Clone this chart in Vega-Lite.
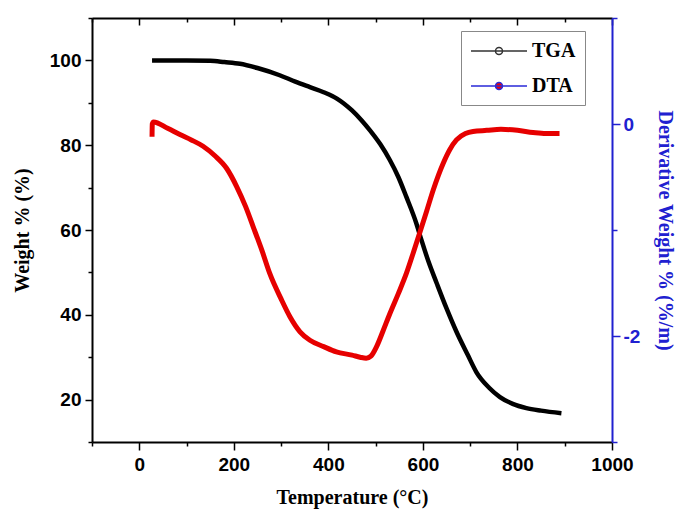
{
  "$schema": "https://vega.github.io/schema/vega-lite/v6.json",
  "width": 520,
  "height": 424,
  "autosize": "none",
  "padding": {"left": 92, "top": 18, "right": 64, "bottom": 70},
  "background": "white",
  "config": {
    "view": {"stroke": null},
    "axis": {
      "labelFont": "Liberation Sans", "labelFontWeight": "bold", "labelFontSize": 19, "labelColor": "black",
      "titleFont": "Liberation Serif", "titleFontWeight": "bold", "titleFontSize": 20, "titleColor": "black",
      "domainColor": "black", "domainWidth": 2, "tickColor": "black", "tickWidth": 1.5, "grid": false,
      "labelFlush": false, "labelOverlap": false
    }
  },
  "data": {"values": [
    {"series": "TGA", "T": 27, "v": 100},
    {"series": "TGA", "T": 60, "v": 100},
    {"series": "TGA", "T": 100, "v": 100},
    {"series": "TGA", "T": 150, "v": 99.9},
    {"series": "TGA", "T": 180, "v": 99.6},
    {"series": "TGA", "T": 213, "v": 99.2},
    {"series": "TGA", "T": 250, "v": 98.2},
    {"series": "TGA", "T": 297, "v": 96.5},
    {"series": "TGA", "T": 330, "v": 95.0},
    {"series": "TGA", "T": 361, "v": 93.7},
    {"series": "TGA", "T": 390, "v": 92.5},
    {"series": "TGA", "T": 418, "v": 91.0},
    {"series": "TGA", "T": 432, "v": 89.9},
    {"series": "TGA", "T": 450, "v": 88.2},
    {"series": "TGA", "T": 470, "v": 85.9},
    {"series": "TGA", "T": 488, "v": 83.5},
    {"series": "TGA", "T": 510, "v": 80.2},
    {"series": "TGA", "T": 530, "v": 76.5},
    {"series": "TGA", "T": 548, "v": 72.5},
    {"series": "TGA", "T": 565, "v": 67.8},
    {"series": "TGA", "T": 586, "v": 61.6},
    {"series": "TGA", "T": 597, "v": 57.6},
    {"series": "TGA", "T": 612, "v": 52.5},
    {"series": "TGA", "T": 629, "v": 47.5},
    {"series": "TGA", "T": 650, "v": 41.5},
    {"series": "TGA", "T": 671, "v": 36.0},
    {"series": "TGA", "T": 695, "v": 30.5},
    {"series": "TGA", "T": 713, "v": 26.5},
    {"series": "TGA", "T": 740, "v": 22.8},
    {"series": "TGA", "T": 763, "v": 20.6},
    {"series": "TGA", "T": 790, "v": 19.0},
    {"series": "TGA", "T": 819, "v": 18.0},
    {"series": "TGA", "T": 850, "v": 17.4},
    {"series": "TGA", "T": 893, "v": 16.8},
    {"series": "DTA", "T": 27, "v": -0.12},
    {"series": "DTA", "T": 27.5, "v": 0.0},
    {"series": "DTA", "T": 30, "v": 0.02},
    {"series": "DTA", "T": 60, "v": -0.04},
    {"series": "DTA", "T": 86, "v": -0.10},
    {"series": "DTA", "T": 110, "v": -0.15},
    {"series": "DTA", "T": 135, "v": -0.21},
    {"series": "DTA", "T": 160, "v": -0.30},
    {"series": "DTA", "T": 185, "v": -0.42},
    {"series": "DTA", "T": 206, "v": -0.59},
    {"series": "DTA", "T": 225, "v": -0.78},
    {"series": "DTA", "T": 241, "v": -0.97},
    {"series": "DTA", "T": 260, "v": -1.20},
    {"series": "DTA", "T": 276, "v": -1.41},
    {"series": "DTA", "T": 300, "v": -1.65},
    {"series": "DTA", "T": 319, "v": -1.82},
    {"series": "DTA", "T": 340, "v": -1.96},
    {"series": "DTA", "T": 361, "v": -2.04},
    {"series": "DTA", "T": 390, "v": -2.10},
    {"series": "DTA", "T": 417, "v": -2.15},
    {"series": "DTA", "T": 450, "v": -2.18},
    {"series": "DTA", "T": 467, "v": -2.20},
    {"series": "DTA", "T": 480, "v": -2.21},
    {"series": "DTA", "T": 490, "v": -2.19},
    {"series": "DTA", "T": 502, "v": -2.10},
    {"series": "DTA", "T": 515, "v": -1.96},
    {"series": "DTA", "T": 530, "v": -1.79},
    {"series": "DTA", "T": 548, "v": -1.60},
    {"series": "DTA", "T": 565, "v": -1.41},
    {"series": "DTA", "T": 580, "v": -1.21},
    {"series": "DTA", "T": 593, "v": -1.03},
    {"series": "DTA", "T": 608, "v": -0.82},
    {"series": "DTA", "T": 622, "v": -0.62},
    {"series": "DTA", "T": 643, "v": -0.37},
    {"series": "DTA", "T": 657, "v": -0.24},
    {"series": "DTA", "T": 671, "v": -0.15},
    {"series": "DTA", "T": 690, "v": -0.09},
    {"series": "DTA", "T": 706, "v": -0.07},
    {"series": "DTA", "T": 735, "v": -0.06},
    {"series": "DTA", "T": 765, "v": -0.05},
    {"series": "DTA", "T": 800, "v": -0.06},
    {"series": "DTA", "T": 833, "v": -0.08},
    {"series": "DTA", "T": 860, "v": -0.09},
    {"series": "DTA", "T": 889, "v": -0.09}
  ]},
  "layer": [
    {
      "transform": [{"filter": "datum.series === 'TGA'"}],
      "mark": {"type": "line", "color": "black", "strokeWidth": 4.5, "interpolate": "monotone"},
      "encoding": {
        "x": {"field": "T", "type": "quantitative", "scale": {"domain": [-100, 1000], "nice": false},
          "axis": {"orient": "bottom", "title": "Temperature (°C)", "format": "d", "values": [-100, 0, 100, 200, 300, 400, 500, 600, 700, 800, 900, 1000],
            "labelExpr": "datum.value % 200 == 0 ? datum.label : ''",
            "tickSize": {"condition": {"test": "datum.value % 200 == 0", "value": 8}, "value": 4},
            "labelPadding": 5, "titlePadding": 13}},
        "y": {"field": "v", "type": "quantitative", "scale": {"domain": [10, 110], "nice": false},
          "axis": {"orient": "left", "title": "Weight % (%)", "values": [10, 20, 30, 40, 50, 60, 70, 80, 90, 100, 110],
            "labelExpr": "datum.value % 20 == 0 ? datum.label : ''",
            "tickSize": {"condition": {"test": "datum.value % 20 == 0", "value": 7}, "value": 4},
            "labelPadding": 4, "titlePadding": 17}}
      }
    },
    {
      "transform": [{"filter": "datum.series === 'DTA'"}],
      "mark": {"type": "line", "color": "#e60000", "strokeWidth": 5, "interpolate": "monotone"},
      "encoding": {
        "x": {"field": "T", "type": "quantitative", "scale": {"domain": [-100, 1000], "nice": false},
          "axis": {"orient": "top", "title": null, "labels": false, "values": [-100, 0, 100, 200, 300, 400, 500, 600, 700, 800, 900, 1000],
            "tickSize": {"condition": {"test": "datum.value % 200 == 0", "value": -7}, "value": -4}}},
        "y": {"field": "v", "type": "quantitative", "scale": {"domain": [-3, 1], "nice": false},
          "axis": {"orient": "right", "title": "Derivative Weight % (%/m)", "values": [-3, -2, -1, 0, 1],
            "labelExpr": "datum.value % 2 == 0 ? (datum.value < 0 ? '-' + abs(datum.value) : datum.label) : ''",
            "tickSize": {"condition": {"test": "datum.value % 2 == 0", "value": 8}, "value": 5},
            "domainColor": "#2020d0", "tickColor": "#2020d0", "labelColor": "#2020d0", "titleColor": "#2020d0",
            "labelPadding": 3, "titlePadding": 15}}
      }
    },
    {
      "transform": [{"filter": "false"}],
      "mark": {"type": "point", "filled": true},
      "encoding": {
        "x": {"field": "T", "type": "quantitative", "axis": null},
        "y": {"field": "v", "type": "quantitative", "axis": null, "scale": {"domain": [0, 1]}},
        "stroke": {"field": "series", "type": "nominal",
          "scale": {"domain": ["TGA", "DTA"], "range": ["#333333", "#2a2ad8"]},
          "legend": {"orient": "none", "legendX": 369, "legendY": 13, "title": null,
            "symbolType": "M-1,0H4.6M1.45,0A0.35,0.35 0 1,1 2.15,0A0.35,0.35 0 1,1 1.45,0",
            "symbolSize": 400, "symbolStrokeWidth": 1.5, "symbolOpacity": 1,
            "labelFont": "Liberation Serif", "labelFontWeight": "bold", "labelFontSize": 20, "labelColor": "black",
            "strokeColor": "#888888", "padding": 9, "rowPadding": 14, "labelOffset": 40}},
        "fill": {"field": "series", "type": "nominal",
          "scale": {"domain": ["TGA", "DTA"], "range": ["white", "#ee0000"]},
          "legend": {"orient": "none", "legendX": 369, "legendY": 13, "title": null,
            "symbolType": "M-1,0H4.6M1.45,0A0.35,0.35 0 1,1 2.15,0A0.35,0.35 0 1,1 1.45,0",
            "symbolSize": 400, "symbolStrokeWidth": 1.5, "symbolOpacity": 1,
            "labelFont": "Liberation Serif", "labelFontWeight": "bold", "labelFontSize": 20, "labelColor": "black",
            "strokeColor": "#888888", "padding": 9, "rowPadding": 14, "labelOffset": 40}}
      }
    }
  ],
  "resolve": {"scale": {"y": "independent"}}
}
